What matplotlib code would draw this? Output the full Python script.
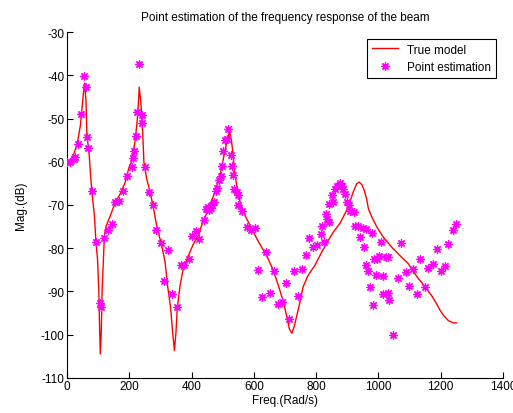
"""Point estimation of the frequency response of the beam."""

import matplotlib
matplotlib.use("Agg")
import matplotlib.pyplot as plt

# True model curve
model_freq = [0, 16, 32, 43, 50, 55, 57, 61, 64, 70, 75, 80, 88, 93, 98, 102,
              105, 107, 110, 113, 117, 120, 126, 139, 155, 171, 187, 198, 207,
              218, 226, 230, 232, 237, 243, 247, 256, 267, 277, 288, 304, 315,
              323, 333, 339, 345, 350, 354, 363, 373, 390, 406, 422, 432, 454,
              475, 491, 502, 513, 522, 528, 532, 537, 545, 556, 572, 593, 614,
              634, 641, 663, 679, 695, 705, 714, 722, 729, 738, 748, 758, 774,
              796, 818, 839, 855, 877, 903, 919, 930, 938, 947, 955, 962, 968,
              979, 995, 1016, 1043, 1069, 1096, 1107, 1128, 1150, 1171, 1187,
              1198, 1209, 1225, 1241, 1251]
model_mag = [-60.2, -59.3, -56.2, -51.6, -46.2, -42.5, -41.8, -46.0, -54.3,
             -57.0, -62.4, -67.0, -72.5, -78.6, -82.5, -89.4, -99.4, -104.5,
             -99.4, -89.4, -82.5, -77.1, -74.8, -72.5, -69.4, -67.4, -64.7,
             -61.6, -60.0, -55.5, -50.1, -45.4, -42.7, -46.2, -53.1, -60.1,
             -64.0, -67.0, -70.5, -74.8, -79.4, -83.2, -88.7, -94.0, -99.4,
             -103.7, -99.4, -94.0, -88.7, -84.8, -81.7, -79.0, -77.0, -74.8,
             -70.9, -67.0, -63.2, -59.3, -55.5, -53.0, -55.0, -57.5, -61.6,
             -65.5, -69.4, -72.5, -75.5, -78.4, -80.9, -81.7, -85.2, -88.7,
             -92.5, -95.6, -98.7, -99.7, -98.3, -95.6, -92.5, -89.0, -86.3,
             -84.0, -80.9, -78.2, -76.3, -74.2, -70.5, -67.0, -65.1, -64.7,
             -65.3, -66.7, -68.6, -70.9, -72.8, -75.1, -77.5, -79.8, -81.7,
             -83.6, -84.9, -87.0, -89.0, -91.0, -92.9, -94.4, -95.6, -96.8,
             -97.3, -97.3]

# Point estimates
est_freq = [0, 11, 21, 27, 35, 46, 55, 61, 64, 67, 80, 93, 105, 108, 120, 132,
            145, 155, 166, 179, 193, 208, 213, 216, 222, 224, 232, 240, 240,
            249, 264, 277, 286, 301, 311, 325, 337, 352, 365, 376, 391, 402,
            413, 424, 441, 445, 449, 454, 456, 462, 464, 472, 478, 483, 488,
            494, 497, 502, 507, 515, 518, 526, 529, 534, 537, 545, 550, 550,
            563, 577, 590, 603, 614, 627, 639, 652, 665, 679, 691, 703, 714,
            730, 741, 756, 767, 777, 791, 802, 816, 820, 825, 831, 834, 841,
            842, 850, 855, 861, 868, 877, 882, 887, 893, 898, 906, 909, 920,
            925, 935, 941, 952, 954, 960, 960, 968, 973, 979, 984, 987, 992,
            996, 1003, 1007, 1014, 1016, 1024, 1032, 1032, 1035, 1048, 1062,
            1073, 1088, 1099, 1112, 1125, 1134, 1150, 1160, 1174, 1187, 1200,
            1214, 1225, 1239, 1249]
est_mag = [-60.1, -60.0, -59.3, -58.9, -55.9, -48.9, -40.2, -42.7, -54.3,
           -56.9, -66.7, -78.5, -92.8, -93.6, -77.7, -75.9, -74.5, -69.4,
           -69.0, -66.7, -63.3, -61.3, -59.2, -57.6, -54.1, -48.5, -37.3,
           -49.1, -51.0, -61.3, -67.0, -70.1, -75.9, -78.8, -87.7, -80.4,
           -90.6, -93.7, -84.0, -83.8, -82.5, -77.2, -76.1, -77.8, -73.4,
           -70.9, -70.9, -70.5, -71.2, -70.6, -70.1, -69.2, -66.7, -66.1,
           -64.3, -63.2, -60.9, -57.6, -54.9, -54.7, -52.5, -58.4, -60.9,
           -63.0, -66.3, -67.0, -67.8, -70.0, -71.3, -75.1, -75.7, -75.4,
           -85.0, -91.2, -80.9, -90.3, -85.4, -92.9, -92.5, -88.0, -96.4,
           -85.2, -91.1, -84.8, -81.5, -77.6, -79.8, -79.2, -76.8, -74.8,
           -78.6, -72.1, -73.2, -74.0, -69.7, -67.8, -69.4, -66.4, -65.6,
           -64.9, -65.5, -66.3, -67.4, -69.4, -70.1, -71.3, -71.7, -74.8,
           -74.8, -77.5, -75.4, -79.8, -75.5, -84.0, -85.4, -88.9, -76.5,
           -93.1, -82.5, -86.2, -82.4, -81.9, -78.5, -86.5, -90.6, -82.1,
           -82.1, -90.3, -92.1, -100.1, -87.0, -78.8, -85.6, -88.8, -84.9,
           -90.6, -82.5, -89.0, -84.6, -83.6, -80.3, -85.4, -84.2, -79.0,
           -75.9, -74.4]

x_ticks = [0, 200, 400, 600, 800, 1000, 1200, 1400]
y_ticks = [-110, -100, -90, -80, -70, -60, -50, -40, -30]

plt.rcParams["font.family"] = ["Liberation Sans", "DejaVu Sans"]
plt.rcParams["font.size"] = 8.5
plt.rcParams["axes.unicode_minus"] = False

fig = plt.figure(figsize=(5.13, 4.14), dpi=100)
ax = fig.add_axes([0.1306, 0.0853, 0.8499, 0.8343])

ax.plot(model_freq, model_mag, color="#FF0000", linewidth=1.0,
        label="True model", zorder=2)
ax.plot(est_freq, est_mag, linestyle="none", marker=(8, 2, 0),
        markersize=6, markeredgewidth=0.9, color="#FF00FF",
        label="Point estimation", zorder=3)

ax.set_xlim(0, 1400)
ax.set_ylim(-110, -30)
ax.set_xticks(x_ticks)
ax.set_yticks(y_ticks)
ax.tick_params(direction="in", length=4, width=0.8, pad=2)
ax.spines["top"].set_visible(False)
ax.spines["right"].set_visible(False)

ax.set_title("Point estimation of the frequency response of the beam",
             fontsize=8.5, pad=9)
ax.set_xlabel("Freq.(Rad/s)", labelpad=1)
ax.set_ylabel("Mag.(dB)", labelpad=10)

leg = ax.legend(loc="upper right", bbox_to_anchor=(0.984, 0.981),
                borderaxespad=0, fancybox=False, framealpha=1,
                edgecolor="black", handlelength=2.2, fontsize=8.5)
leg.get_frame().set_linewidth(0.8)

fig.savefig("out.png", dpi=100, facecolor="white")
plt.close(fig)
